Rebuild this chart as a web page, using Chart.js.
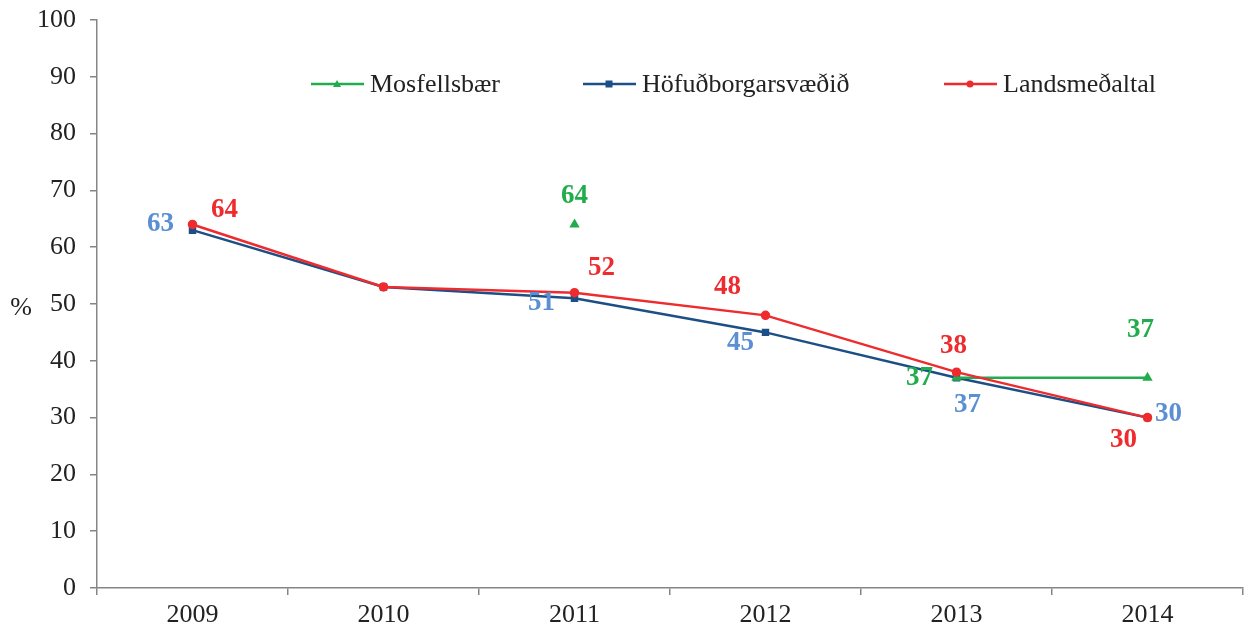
<!DOCTYPE html>
<html>
<head>
<meta charset="utf-8">
<style>
  html, body { margin: 0; padding: 0; background: #fff; }
</style>
</head>
<body>
<canvas id="myChart" width="1255" height="635"></canvas>
<script src="https://cdn.jsdelivr.net/npm/chart.js@4/dist/chart.umd.min.js"></script>
<script>
// data
const years = ['2009', '2010', '2011', '2012', '2013', '2014'];
const mosfellsbaer = [null, null, 64, null, 37, 37];
const hofudborgarsvaedid = [63, 53, 51, 45, 37, 30];
const landsmedaltal = [64, 53, 52, 48, 38, 30];
const seriesNames = ['Mosfellsbær', 'Höfuðborgarsvæðið', 'Landsmeðaltal'];
const yMin = 0, yMax = 100, yStep = 10;

// where each value label sits relative to its point (null = no label)
const labelOffsets = [
    [null, null, [0, -28], null, [-37, 0], [-7, -48]],
    [[-32, -6], null, [-33, 5], [-25, 11], [11, 27], [21, -4]],
    [[32, -14], null, [27, -25], [-38, -28], [-3, -26], [-24, 22]]
];

const GREEN = '#21ad4b';
const NAVY = '#1c4f85';
const RED = '#ee2b2e';
const LABEL_COLORS = [GREEN, '#5a8fd4', RED];
const AXIS = '#858585';
const TEXT = '#222222';
const SERIF = '"Liberation Serif", "Times New Roman", serif';

const valueLabels = {
    id: 'valueLabels',
    afterDatasetsDraw(chart) {
        const {ctx} = chart;
        ctx.save();
        ctx.font = 'bold 27px ' + SERIF;
        ctx.textAlign = 'center';
        ctx.textBaseline = 'middle';
        chart.data.datasets.forEach((ds, d) => {
            const meta = chart.getDatasetMeta(d);
            ds.data.forEach((v, i) => {
                const off = labelOffsets[d][i];
                if (v == null || !off) return;
                const pt = meta.data[i];
                ctx.fillStyle = LABEL_COLORS[d];
                ctx.fillText(String(v), pt.x + off[0], pt.y + off[1]);
            });
        });
        ctx.restore();
    }
};

// legend drawn as line + marker, like the original
const lineLegend = {
    id: 'lineLegend',
    afterDraw(chart) {
        const {ctx} = chart;
        const starts = [311, 583, 944];
        const y = 84;
        ctx.save();
        chart.data.datasets.forEach((ds, d) => {
            const x0 = starts[d];
            ctx.strokeStyle = ds.borderColor;
            ctx.fillStyle = ds.borderColor;
            ctx.lineWidth = 2.5;
            ctx.beginPath();
            ctx.moveTo(x0, y);
            ctx.lineTo(x0 + 53, y);
            ctx.stroke();
            const mx = x0 + 26;
            ctx.beginPath();
            if (ds.pointStyle === 'triangle') {
                ctx.moveTo(mx, y - 4); ctx.lineTo(mx + 4, y + 3); ctx.lineTo(mx - 4, y + 3);
                ctx.closePath();
            } else if (ds.pointStyle === 'rect') {
                ctx.rect(mx - 3.5, y - 3.5, 7, 7);
            } else {
                ctx.arc(mx, y, 3.5, 0, Math.PI * 2);
            }
            ctx.fill();
            ctx.fillStyle = TEXT;
            ctx.font = '26px ' + SERIF;
            ctx.textAlign = 'left';
            ctx.textBaseline = 'middle';
            ctx.fillText(ds.label, x0 + 59, y + 1);
        });
        // "%" axis title, unrotated
        ctx.font = '26px ' + SERIF;
        ctx.textAlign = 'center';
        ctx.fillText('%', 21, 308);
        ctx.restore();
    }
};

const backgroundColor = {
    id: 'BackgroundColor',
    beforeDraw(chart) {
        const {ctx} = chart;
        ctx.save();
        ctx.globalCompositeOperation = 'destination-over';
        ctx.fillStyle = '#ffffff';
        ctx.fillRect(0, 0, chart.width, chart.height);
        ctx.restore();
    }
};

const ctx = document.getElementById('myChart');

const chart = new Chart(ctx, {
    type: 'line',
    plugins: [valueLabels, lineLegend, backgroundColor],
    data: {
        labels: years,
        datasets: [
        {
            label: seriesNames[0],
            data: mosfellsbaer,
            borderColor: GREEN,
            backgroundColor: GREEN,
            borderWidth: 2.5,
            pointStyle: 'triangle',
            pointRadius: 3.5,
            spanGaps: false,
            order: 1
        },
        {
            label: seriesNames[1],
            data: hofudborgarsvaedid,
            borderColor: NAVY,
            backgroundColor: NAVY,
            borderWidth: 2.5,
            pointStyle: 'rect',
            pointRadius: 3.5,
            order: 2
        },
        {
            label: seriesNames[2],
            data: landsmedaltal,
            borderColor: RED,
            backgroundColor: RED,
            borderWidth: 2.5,
            pointStyle: 'circle',
            pointRadius: 3.5,
            order: 0
        }
        ]
    },
    options: {
        responsive: false,
        animation: false,
        layout: {
            padding: { left: 0, top: 20, right: 12, bottom: 0 }
        },
        plugins: {
            legend: { display: false },
            tooltip: { enabled: false }
        },
        scales: {
            x: {
                offset: true,
                afterFit: (scale) => {
                    scale.height = 47;
                    scale.paddingLeft = 0;
                    scale.paddingRight = 0;
                },
                border: { color: AXIS, width: 1.5 },
                grid: {
                    offset: true,
                    drawOnChartArea: false,
                    tickLength: 7,
                    color: AXIS,
                    lineWidth: 1.5
                },
                ticks: {
                    color: TEXT,
                    padding: 5,
                    font: { family: SERIF, size: 26 }
                }
            },
            y: {
                min: yMin,
                max: yMax,
                afterFit: (scale) => {
                    scale.width = 97;
                    scale.paddingTop = 0;
                    scale.paddingBottom = 0;
                },
                border: { color: AXIS, width: 1.5 },
                grid: {
                    drawOnChartArea: false,
                    tickLength: 7,
                    color: AXIS,
                    lineWidth: 1.5
                },
                ticks: {
                    stepSize: yStep,
                    color: TEXT,
                    padding: 14,
                    font: { family: SERIF, size: 26 }
                }
            }
        }
    }
});
</script>
</body>
</html>
